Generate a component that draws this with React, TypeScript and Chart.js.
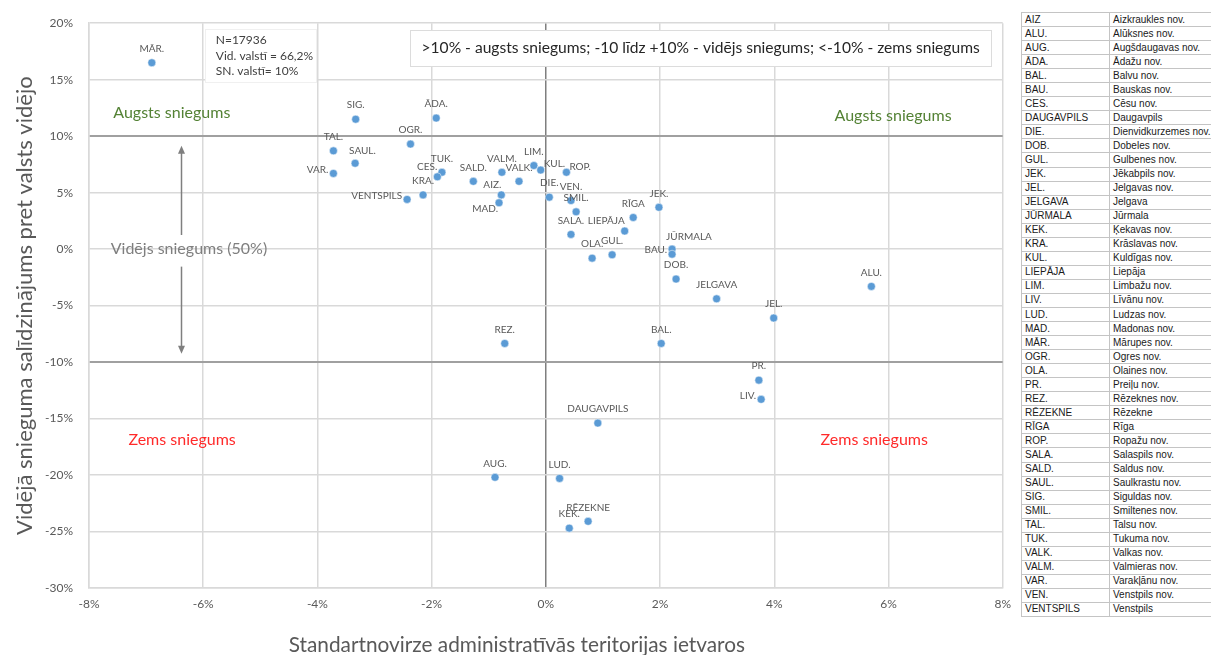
import React, { useEffect, useRef } from 'react';
import { Chart, registerables } from 'chart.js';

Chart.register(...registerables);

const FONT = 'Lato, "Open Sans", "DejaVu Sans", sans-serif';

// ---------- data ----------
const pointLabels = [
  'MĀR.', 'SIG.', 'ĀDA.', 'TAL.', 'OGR.', 'SAUL.', 'VAR.', 'TUK.', 'CES.', 'KRA.',
  'VENTSPILS', 'SALD.', 'VALM.', 'VALK.', 'AIZ.', 'MAD.', 'LIM.', 'KUL.', 'ROP.', 'DIE.',
  'VEN.', 'SMIL.', 'SALA.', 'OLA.', 'GUL.', 'LIEPĀJA', 'RĪGA', 'JEK.', 'JŪRMALA', 'BAU.',
  'DOB.', 'JELGAVA', 'ALU.', 'JEL.', 'BAL.', 'REZ.', 'PR.', 'LIV.', 'DAUGAVPILS', 'AUG.',
  'LUD.', 'RĒZEKNE', 'KEK.',
];
const xValues = [
  -6.9, -3.33, -1.92, -3.72, -2.37, -3.34, -3.72, -1.82, -1.9, -2.15,
  -2.43, -1.27, -0.77, -0.47, -0.78, -0.82, -0.21, -0.09, 0.36, 0.06,
  0.44, 0.53, 0.44, 0.81, 1.16, 1.38, 1.53, 1.98, 2.21, 2.21,
  2.28, 2.99, 5.7, 3.99, 2.02, -0.72, 3.73, 3.77, 0.91, -0.89,
  0.24, 0.74, 0.41,
];
const yValues = [
  16.5, 11.5, 11.6, 8.7, 9.3, 7.6, 6.7, 6.8, 6.4, 4.8,
  4.4, 6.0, 6.8, 6.0, 4.8, 4.1, 7.4, 7.0, 6.8, 4.6,
  4.3, 3.3, 1.3, -0.8, -0.5, 1.6, 2.8, 3.7, 0.0, -0.45,
  -2.65, -4.4, -3.3, -6.1, -8.35, -8.35, -11.6, -13.3, -15.4, -20.2,
  -20.3, -24.1, -24.7,
];
// label placement relative to its point (style only)
const labelPlacement = [
  'T', 'T', 'T', 'T', 'T', 'TR', 'L', 'T', 'TL', 'T',
  'L', 'T', 'T', 'T', 'TL', 'BL', 'T', 'R', 'R', 'T',
  'T', 'T', 'T', 'T', 'T', 'TL', 'T', 'T', 'TR', 'L',
  'T', 'T', 'T', 'T', 'T', 'T', 'T', 'L', 'T', 'T',
  'T', 'T', 'T',
];

const xMin = -8;
const xMax = 8;
const xStep = 2;
const yMin = -30;
const yMax = 20;
const yStep = 5;
const highThreshold = 10;
const lowThreshold = -10;

const xTitle = 'Standartnovirze administratīvās teritorijas ietvaros';
const yTitle = 'Vidējā snieguma salīdzinājums pret valsts vidējo';
const statsLines = ['N=17936', 'Vid. valstī = 66,2%', 'SN. valstī= 10%'];
const legendText = '>10% - augsts sniegums; -10 līdz +10% - vidējs sniegums; <-10% - zems sniegums';
const highText = 'Augsts sniegums';
const midText = 'Vidējs sniegums (50%)';
const lowText = 'Zems sniegums';

const tableCodes = [
  'AIZ', 'ALU.', 'AUG.', 'ĀDA.', 'BAL.', 'BAU.', 'CES.', 'DAUGAVPILS', 'DIE.', 'DOB.',
  'GUL.', 'JEK.', 'JEL.', 'JELGAVA', 'JŪRMALA', 'KEK.', 'KRA.', 'KUL.', 'LIEPĀJA', 'LIM.',
  'LIV.', 'LUD.', 'MAD.', 'MĀR.', 'OGR.', 'OLA.', 'PR.', 'REZ.', 'RĒZEKNE', 'RĪGA',
  'ROP.', 'SALA.', 'SALD.', 'SAUL.', 'SIG.', 'SMIL.', 'TAL.', 'TUK.', 'VALK.', 'VALM.',
  'VAR.', 'VEN.', 'VENTSPILS',
];
const tableNames = [
  'Aizkraukles nov.', 'Alūksnes nov.', 'Augšdaugavas nov.', 'Ādažu nov.', 'Balvu nov.',
  'Bauskas nov.', 'Cēsu nov.', 'Daugavpils', 'Dienvidkurzemes nov.', 'Dobeles nov.',
  'Gulbenes nov.', 'Jēkabpils nov.', 'Jelgavas nov.', 'Jelgava', 'Jūrmala',
  'Ķekavas nov.', 'Krāslavas nov.', 'Kuldīgas nov.', 'Liepāja', 'Limbažu nov.',
  'Līvānu nov.', 'Ludzas nov.', 'Madonas nov.', 'Mārupes nov.', 'Ogres nov.',
  'Olaines nov.', 'Preiļu nov.', 'Rēzeknes nov.', 'Rēzekne', 'Rīga',
  'Ropažu nov.', 'Salaspils nov.', 'Saldus nov.', 'Saulkrastu nov.', 'Siguldas nov.',
  'Smiltenes nov.', 'Talsu nov.', 'Tukuma nov.', 'Valkas nov.', 'Valmieras nov.',
  'Varakļānu nov.', 'Venstpils nov.', 'Venstpils',
];

// ---------- plugins ----------
const annotationsPlugin = {
  id: 'annotations',
  beforeDatasetsDraw(chart: any) {
    const { ctx, scales } = chart;
    const xs = scales.x;
    const ys = scales.y;
    const px = (v: number) => xs.getPixelForValue(v);
    const py = (v: number) => ys.getPixelForValue(v);
    ctx.save();

    // stats box
    const sx0 = px(-5.96), sx1 = px(-4.01), sy0 = py(19.5), sy1 = py(14.85);
    ctx.fillStyle = '#ffffff';
    ctx.fillRect(sx0, sy0, sx1 - sx0, sy1 - sy0);
    ctx.strokeStyle = '#f0f0f0';
    ctx.lineWidth = 1;
    ctx.strokeRect(Math.round(sx0) + 0.5, Math.round(sy0) + 0.5, Math.round(sx1 - sx0), Math.round(sy1 - sy0));
    ctx.fillStyle = '#404040';
    ctx.font = `12px ${FONT}`;
    ctx.textAlign = 'left';
    ctx.textBaseline = 'middle';
    statsLines.forEach((t, i) => ctx.fillText(t, px(-5.78), py(18.5) + i * 15.5));

    // legend box
    const lx0 = px(-2.38), lx1 = px(7.8), ly0 = py(19.4), ly1 = py(16.2);
    ctx.fillStyle = '#ffffff';
    ctx.fillRect(lx0, ly0, lx1 - lx0, ly1 - ly0);
    ctx.strokeStyle = '#dcdcdc';
    ctx.strokeRect(Math.round(lx0) + 0.5, Math.round(ly0) + 0.5, Math.round(lx1 - lx0), Math.round(ly1 - ly0));
    ctx.fillStyle = '#262626';
    ctx.font = `15.6px ${FONT}`;
    ctx.textAlign = 'center';
    ctx.fillText(legendText, (lx0 + lx1) / 2, (ly0 + ly1) / 2);

    // quadrant labels
    ctx.font = `16px ${FONT}`;
    ctx.fillStyle = '#548235';
    ctx.fillText(highText, px(-6.55), py(12.04));
    ctx.fillText(highText, px(6.08), py(11.78));
    ctx.fillStyle = '#ff2a2a';
    ctx.fillText(lowText, px(-6.37), py(-16.84));
    ctx.fillText(lowText, px(5.75), py(-16.84));
    ctx.fillStyle = '#7f7f7f';
    ctx.fillText(midText, px(-6.25), py(0.05));

    // double arrow
    const ax = Math.round(px(-6.39)) + 0.5;
    ctx.strokeStyle = '#7f7f7f';
    ctx.fillStyle = '#7f7f7f';
    ctx.lineWidth = 1.5;
    const arrow = (from: number, tip: number) => {
      const dir = tip < from ? 1 : -1;
      ctx.beginPath();
      ctx.moveTo(ax, from);
      ctx.lineTo(ax, tip + dir * 6);
      ctx.stroke();
      ctx.beginPath();
      ctx.moveTo(ax, tip);
      ctx.lineTo(ax - 3.5, tip + dir * 8);
      ctx.lineTo(ax + 3.5, tip + dir * 8);
      ctx.closePath();
      ctx.fill();
    };
    arrow(py(1.25), py(9.15));
    arrow(py(-1.55), py(-9.27));

    ctx.restore();
  },
  afterDatasetsDraw(chart: any) {
    const { ctx } = chart;
    const meta = chart.getDatasetMeta(0);
    ctx.save();
    ctx.font = `10px ${FONT}`;
    ctx.fillStyle = '#595959';
    ctx.textBaseline = 'middle';
    meta.data.forEach((el: any, i: number) => {
      const { x, y } = el.getProps(['x', 'y'], true);
      let tx = x;
      let ty = y - 14;
      let align = 'center';
      switch (labelPlacement[i]) {
        case 'L': tx = x - 5; ty = y - 4; align = 'right'; break;
        case 'TL': tx = x + 0; ty = y - 10; align = 'right'; break;
        case 'BL': tx = x - 1; ty = y + 6; align = 'right'; break;
        case 'TR': tx = x - 6; ty = y - 12; align = 'left'; break;
        case 'R': tx = x + 3; ty = y - 6; align = 'left'; break;
        default: break;
      }
      ctx.textAlign = align;
      ctx.fillText(pointLabels[i], tx, ty);
    });

    // x axis title
    const area = chart.chartArea;
    ctx.font = `20.8px ${FONT}`;
    ctx.fillStyle = '#595959';
    ctx.textAlign = 'center';
    ctx.fillText(xTitle, (area.left + area.right) / 2 - 29, 645);
    ctx.restore();
  },
};

export default function App() {
  const canvasRef = useRef<HTMLCanvasElement | null>(null);

  useEffect(() => {
    const canvas = canvasRef.current;
    if (!canvas) return;
    const points = xValues.map((x, i) => ({ x, y: yValues[i] }));
    const chart = new Chart(canvas, {
      type: 'scatter',
      data: {
        datasets: [
          {
            data: points,
            backgroundColor: '#5b9bd5',
            borderColor: '#ffffff',
            borderWidth: 0.5,
            pointRadius: 4,
            pointHoverRadius: 4,
          },
        ],
      },
      options: {
        responsive: false,
        animation: false,
        layout: { padding: { top: 19, right: 13, left: 0, bottom: 0 } },
        plugins: {
          legend: { display: false },
          tooltip: { enabled: false },
        },
        scales: {
          x: {
            type: 'linear',
            min: xMin,
            max: xMax,
            ticks: {
              stepSize: xStep,
              callback: (v: any) => `${v}%`,
              color: '#595959',
              font: { family: FONT, size: 12 },
              padding: 9,
            },
            grid: {
              color: (c: any) => (c.tick && c.tick.value === 0 ? '#7f7f7f' : '#d9d9d9'),
              lineWidth: 1.5,
              drawTicks: false,
            },
            border: { color: '#d9d9d9', width: 1.5 },
            afterFit: (s: any) => {
              s.height = 67;
            },
          },
          y: {
            type: 'linear',
            min: yMin,
            max: yMax,
            ticks: {
              stepSize: yStep,
              callback: (v: any) => `${v}%`,
              color: '#595959',
              font: { family: FONT, size: 12 },
              padding: 16,
            },
            grid: {
              color: (c: any) =>
                c.tick && (c.tick.value === highThreshold || c.tick.value === lowThreshold) ? '#a0a0a0' : '#d9d9d9',
              lineWidth: (c: any) =>
                c.tick && (c.tick.value === highThreshold || c.tick.value === lowThreshold) ? 2 : 1.5,
              drawTicks: false,
            },
            border: { color: '#d9d9d9', width: 1.5 },
            title: {
              display: true,
              text: yTitle,
              color: '#595959',
              font: { family: FONT, size: 22, lineHeight: 1.2 },
              padding: { top: 12, bottom: 0 },
            },
            afterFit: (s: any) => {
              s.width = 89;
            },
          },
        },
      },
      plugins: [annotationsPlugin],
    });
    return () => chart.destroy();
  }, []);

  const cell: React.CSSProperties = {
    border: '1px solid #c4c4c4',
    padding: '0 3px',
    whiteSpace: 'nowrap',
    overflow: 'hidden',
    lineHeight: '12px',
    height: '13.05px',
  };

  return (
    <div
      style={{
        position: 'absolute',
        left: 0,
        top: 0,
        width: 1211,
        height: 655,
        overflow: 'hidden',
        background: '#ffffff',
      }}
    >
      <canvas ref={canvasRef} width={1020} height={655} style={{ position: 'absolute', left: 0, top: 0 }} />
      <table
        style={{
          position: 'absolute',
          left: 1021,
          top: 12,
          borderCollapse: 'collapse',
          tableLayout: 'fixed',
          width: 215,
          fontFamily: '"Liberation Sans", Arial, sans-serif',
          fontSize: 10,
          color: '#1a1a1a',
        }}
      >
        <colgroup>
          <col style={{ width: 88 }} />
          <col style={{ width: 127 }} />
        </colgroup>
        <tbody>
          {tableCodes.map((c, i) => (
            <tr key={c}>
              <td style={cell}>{c}</td>
              <td style={cell}>{tableNames[i]}</td>
            </tr>
          ))}
        </tbody>
      </table>
    </div>
  );
}
